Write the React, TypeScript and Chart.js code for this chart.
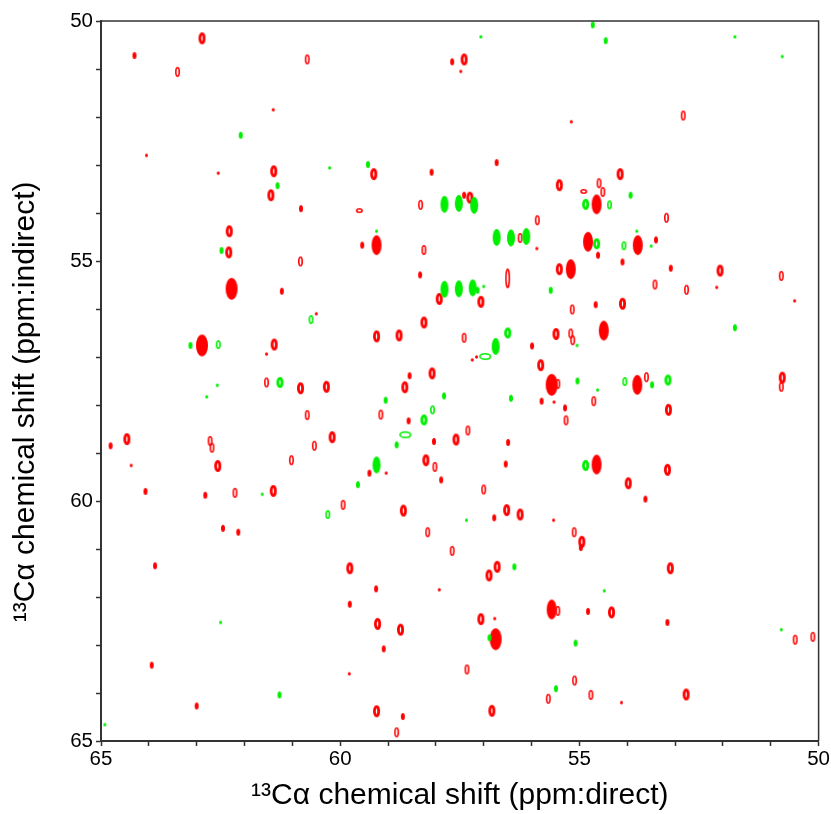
import React, { useEffect, useRef } from "react";
import { Chart, registerables } from "chart.js";

Chart.register(...registerables);

type P = [number, number];

const xTitle = "¹³Cα chemical shift (ppm:direct)";
const yTitle = "¹³Cα chemical shift (ppm:indirect)     ";
const labelledTicks = [50, 55, 60, 65];

const redTiny: P[] = [[61.40,51.85],[64.05,52.80],[62.55,53.17],[60.50,56.10],[61.54,56.94],[57.48,51.05],[55.17,52.10],[55.89,54.74],[52.13,55.55],[50.50,55.83],[57.24,57.06],[57.15,57.00],[55.53,57.94],[55.54,60.40],[56.77,62.45],[54.12,64.20],[64.37,59.26],[59.81,63.60],[57.93,61.85],[59.04,59.42]];
const redSmall: P[] = [[64.30,50.72],[57.66,50.85],[58.09,53.15],[60.82,53.91],[59.54,54.67],[58.33,55.29],[61.22,55.63],[58.55,57.39],[56.73,52.95],[57.41,53.63],[54.61,54.88],[53.40,54.56],[54.66,55.91],[55.99,56.77],[55.79,57.92],[55.30,58.06],[56.49,58.78],[56.54,59.23],[53.62,59.96],[56.78,60.35],[54.97,60.97],[64.80,58.85],[64.07,59.80],[62.82,59.88],[62.45,60.57],[62.13,60.65],[63.87,61.35],[63.94,63.42],[63.00,64.27],[59.80,62.15],[59.25,61.83],[59.09,63.08],[58.57,58.33],[58.04,58.76],[57.89,59.56],[59.39,59.42],[58.69,64.49],[53.09,55.15],[54.10,55.02],[54.82,62.30],[53.16,62.53]];
const redRing: P[] = [[63.40,51.06],[60.69,50.80],[58.32,53.83],[58.25,54.77],[60.83,55.01],[61.54,57.53],[52.83,51.97],[53.18,54.10],[55.88,54.15],[56.24,54.52],[54.51,53.56],[53.42,55.49],[52.76,55.60],[50.78,55.31],[55.15,56.01],[55.18,56.51],[55.14,56.65],[57.41,56.60],[53.60,57.42],[50.78,57.62],[54.70,57.92],[55.28,58.32],[57.33,58.53],[57.00,59.76],[55.11,60.65],[57.35,63.51],[55.10,63.74],[54.76,64.04],[55.65,64.12],[50.49,62.89],[50.12,62.83],[62.72,58.75],[62.68,58.89],[62.20,59.83],[60.69,58.21],[61.02,59.15],[60.54,58.85],[59.94,60.08],[59.15,58.20],[58.02,59.29],[58.17,60.65],[57.66,61.04],[58.82,64.82],[55.45,57.56],[55.45,62.29],[54.59,53.38]];
const redMed: P[] = [[62.89,50.36],[61.39,53.13],[59.30,53.19],[61.45,53.63],[62.32,54.38],[62.33,54.82],[57.93,55.79],[58.25,56.28],[58.77,56.55],[61.38,56.74],[58.08,57.34],[60.29,57.62],[60.83,57.65],[57.41,50.80],[54.15,53.19],[55.42,53.42],[55.42,55.17],[52.06,55.20],[57.06,55.85],[54.10,55.89],[55.49,56.52],[55.81,57.17],[50.76,57.43],[53.14,58.10],[57.58,58.72],[53.16,59.35],[53.98,59.63],[56.52,60.19],[56.24,60.28],[54.95,60.85],[56.72,61.37],[56.89,61.55],[53.10,61.40],[54.33,62.32],[57.06,62.46],[52.77,64.03],[56.83,64.37],[64.46,58.71],[61.40,59.79],[62.56,59.27],[60.17,58.67],[59.80,61.40],[59.22,62.56],[58.74,62.68],[58.21,59.15],[58.68,60.20],[59.24,64.38],[57.29,53.68],[59.24,56.57],[58.65,57.63]];
const redBig: P[] = [[59.24,54.67],[54.64,53.82],[54.82,54.60],[53.78,54.67],[55.18,55.17],[54.49,56.45],[53.79,57.58],[54.64,59.24],[55.58,62.26]];
const redHuge: P[] = [[62.27,55.58],[62.89,56.76],[55.58,57.58],[56.75,62.88]];
const redLong: P[] = [[56.50,55.36]];
const redWide: P[] = [[59.60,53.95],[54.91,53.55]];

const greenTiny: P[] = [[60.22,53.06],[59.24,54.38],[62.57,57.59],[62.79,57.83],[57.06,50.33],[51.75,50.33],[50.76,50.74],[53.50,54.69],[53.80,54.38],[57.00,55.53],[55.05,56.76],[54.62,57.69],[54.48,61.87],[50.78,62.68],[57.36,60.40],[61.63,59.86],[62.50,62.53],[64.92,64.66]];
const greenSmall: P[] = [[62.08,52.38],[59.42,52.99],[61.31,53.43],[62.48,54.78],[63.13,56.76],[54.72,50.08],[54.45,50.41],[53.93,53.63],[57.13,55.61],[55.60,55.61],[51.75,56.39],[55.04,57.50],[53.48,57.58],[56.43,57.86],[56.36,61.37],[56.88,62.85],[55.08,62.96],[55.49,63.91],[59.05,57.90],[57.83,57.81],[58.82,58.83],[59.63,59.66],[61.27,64.04]];
const greenRing: P[] = [[60.61,56.22],[62.55,56.74],[54.37,53.83],[54.07,54.68],[54.05,57.51],[58.07,58.10],[60.26,60.28]];
const greenMed: P[] = [[61.26,57.53],[54.87,53.82],[54.64,54.64],[56.50,56.50],[53.15,57.48],[54.87,59.26],[58.25,58.31]];
const greenBig: P[] = [[57.82,53.82],[57.52,53.80],[57.20,53.84],[56.73,54.51],[56.43,54.52],[56.11,54.49],[57.82,55.59],[57.52,55.58],[57.23,55.56],[56.75,56.78],[59.24,59.25]];
const greenWide: P[] = [[56.97,56.99],[58.64,58.62]];

const RED = "#ff0000";
const GREEN = "#00ee00";

function ellipse(w: number, h: number, color: string, lineWidth: number): HTMLCanvasElement {
  const c = document.createElement("canvas");
  c.width = Math.ceil(w + 2);
  c.height = Math.ceil(h + 2);
  const g = c.getContext("2d")!;
  g.beginPath();
  g.ellipse(c.width / 2, c.height / 2, w / 2 - lineWidth / 2, h / 2 - lineWidth / 2, 0, 0, Math.PI * 2);
  if (lineWidth > 0) {
    g.strokeStyle = color;
    g.lineWidth = lineWidth;
    g.stroke();
  } else {
    g.fillStyle = color;
    g.fill();
  }
  return c;
}

function series(label: string, data: P[], style: HTMLCanvasElement) {
  return {
    label,
    data: data.map(([x, y]) => ({ x, y })),
    pointStyle: style,
    pointRadius: 5,
    showLine: false,
    clip: false as const,
  };
}

const frame = {
  id: "frame",
  afterDatasetsDraw(chart: Chart) {
    const { ctx, chartArea: a } = chart;
    ctx.save();
    ctx.strokeStyle = "#333333";
    ctx.lineWidth = 1.5;
    ctx.beginPath();
    ctx.moveTo(a.left, a.top);
    ctx.lineTo(a.right, a.top);
    ctx.lineTo(a.right, a.bottom);
    ctx.stroke();
    ctx.restore();
  },
};

export default function App() {
  const ref = useRef<HTMLCanvasElement>(null);
  useEffect(() => {
    const tickFont = { family: "'Liberation Sans'", size: 20.5 };
    const titleFont = { family: "'Liberation Sans'", size: 30 };
    const tickText = (v: string | number) => (labelledTicks.includes(Number(v)) ? String(v) : "");
    const chart = new Chart(ref.current!, {
      type: "scatter",
      data: {
        datasets: [
          series("green tiny", greenTiny, ellipse(3, 3.5, GREEN, 0)),
          series("green small", greenSmall, ellipse(4, 7, GREEN, 0)),
          series("green ring", greenRing, ellipse(5, 9, GREEN, 1.6)),
          series("green medium", greenMed, ellipse(7, 11, GREEN, 2.8)),
          series("green big", greenBig, ellipse(8, 17, GREEN, 0)),
          series("green wide", greenWide, ellipse(12, 7, GREEN, 1.6)),
          series("red tiny", redTiny, ellipse(3, 3.5, RED, 0)),
          series("red small", redSmall, ellipse(4, 7, RED, 0)),
          series("red ring", redRing, ellipse(5, 10, RED, 1.6)),
          series("red medium", redMed, ellipse(7, 12, RED, 2.8)),
          series("red big", redBig, ellipse(10, 20, RED, 0)),
          series("red huge", redHuge, ellipse(12, 22, RED, 0)),
          series("red long", redLong, ellipse(5, 20, RED, 1.6)),
          series("red wide", redWide, ellipse(7, 5, RED, 1.6)),
        ],
      },
      options: {
        animation: false,
        responsive: false,
        layout: { padding: { top: 21, right: 11, left: 0, bottom: 0 } },
        plugins: { legend: { display: false }, tooltip: { enabled: false } },
        scales: {
          x: {
            type: "linear",
            reverse: true,
            min: 50,
            max: 65,
            afterFit: (s: any) => { s.height = 73; },
            border: { color: "#333333", width: 2 },
            grid: { drawOnChartArea: false, color: "#333333", tickLength: 5, tickWidth: 1.5 },
            ticks: { stepSize: 1, autoSkip: false, maxRotation: 0, color: "#000", font: tickFont, padding: 1, callback: tickText },
            title: { display: true, text: xTitle, color: "#000", font: titleFont, padding: { top: 9, bottom: 0 } },
          },
          y: {
            type: "linear",
            reverse: true,
            min: 50,
            max: 65,
            afterFit: (s: any) => { s.width = 101; },
            border: { color: "#333333", width: 2 },
            grid: { drawOnChartArea: false, color: "#333333", tickLength: 5, tickWidth: 1.5 },
            ticks: { stepSize: 1, autoSkip: false, color: "#000", font: tickFont, padding: 3, callback: tickText },
            title: { display: true, text: yTitle, color: "#000", font: titleFont, padding: { top: 8, bottom: 0 } },
          },
        },
      },
      plugins: [frame],
    } as any);
    return () => chart.destroy();
  }, []);
  return (
    <div style={{ position: "absolute", left: 0, top: 0, width: 831, height: 814, background: "#fff" }}>
      <canvas ref={ref} width={831} height={814} style={{ display: "block" }} />
    </div>
  );
}
